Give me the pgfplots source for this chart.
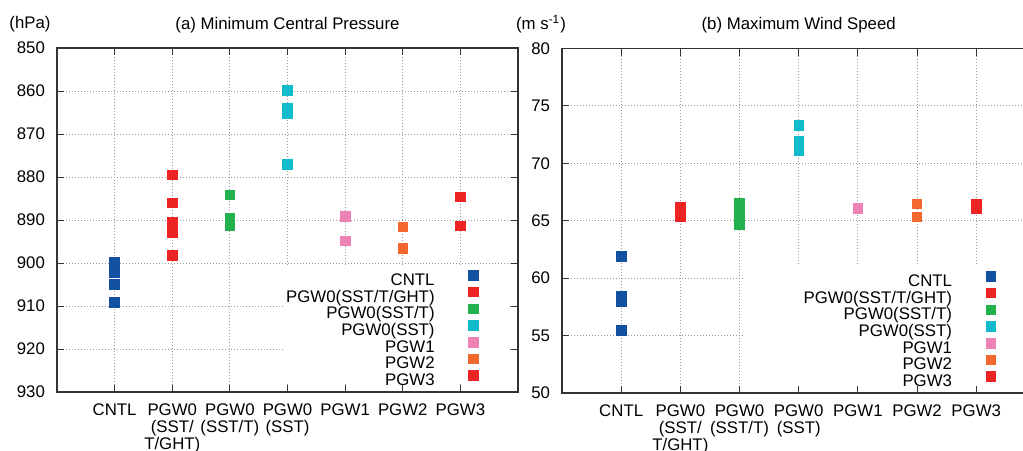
\documentclass[border=0pt]{standalone}
\usepackage{fontspec}
\setmainfont{Liberation Sans}
\usepackage{pgfplots}
\pgfplotsset{compat=1.18}

\definecolor{cntl}{RGB}{18,80,162}
\definecolor{pgwa}{RGB}{237,36,36}
\definecolor{pgwb}{RGB}{34,177,76}
\definecolor{pgwc}{RGB}{16,188,204}
\definecolor{pgwd}{RGB}{238,130,180}
\definecolor{pgwe}{RGB}{242,104,46}
\definecolor{pgwf}{RGB}{237,36,36}

\newcommand{\lbl}{\fontsize{8.4}{8.5}\selectfont}

\pgfplotsset{
  sq/.style={only marks, mark=square*, mark size=2.4pt, color=#1, mark options={fill=#1, draw=#1, solid}},
  panel/.style={
    scale only axis,
    clip=false,
    anchor=south west,
    xmin=0, xmax=8,
    xtick={1,...,7},
    xticklabels={CNTL,{PGW0\\(SST/\\T/GHT)},{PGW0\\(SST/T)},{PGW0\\(SST)},PGW1,PGW2,PGW3},
    x tick label style={align=center, font=\lbl, yshift=-2.5pt},
    y tick label style={font=\lbl, xshift=-2.5pt},
    /pgf/number format/assume math mode=true,
    tick align=inside, major tick length=3.5pt,
    tick style={line width=0.5pt, black!80},
    grid=major,
    grid style={dash pattern=on 0.5pt off 1pt, gray!80, line width=0.45pt},
    axis line style={line width=0.9pt, black!80},
    title style={font=\lbl, yshift=-2pt},
    legend image code/.code={\path[draw=none] (0pt,0pt) -- (39.5pt,0pt); \draw[##1] plot coordinates {(17.5pt,3pt)};},
    legend cell align=right, legend plot pos=right,
    legend style={draw=none, fill=none, font=\lbl, inner sep=0pt, row sep=-1.3pt,
      nodes={inner ysep=0pt, inner xsep=2pt, text height=6.3pt, text depth=2.2pt},
      at={(rel axis cs:1,0)}, anchor=south east, yshift=0.8pt},
  }
}

\begin{document}
\begin{tikzpicture}
% (a) minimum central pressure
\begin{axis}[panel, at={(28.5pt,29pt)}, width=230.5pt, height=172pt,
  ymin=850, ymax=930, y dir=reverse, ytick={850,860,...,930},
  title={(a) Minimum Central Pressure}]
\fill[white] (axis cs:3.96,900.45) rectangle ([xshift=-3.8pt,yshift=3.8pt]axis cs:8,930);
\addplot[sq=cntl] coordinates {(1,899.8) (1,901.0) (1,902.2) (1,905.0) (1,909.1)};
\addlegendentry{CNTL}
\addplot[sq=pgwa] coordinates {(2,879.5) (2,886.0) (2,890.5) (2,893.0) (2,898.3)};
\addlegendentry{PGW0(SST/T/GHT)}
\addplot[sq=pgwb] coordinates {(3,884.2) (3,889.6) (3,890.5) (3,891.4)};
\addlegendentry{PGW0(SST/T)}
\addplot[sq=pgwc] coordinates {(4,859.9) (4,864.1) (4,865.2) (4,877.0)};
\addlegendentry{PGW0(SST)}
\addplot[sq=pgwd] coordinates {(5,889.1) (5,894.9)};
\addlegendentry{PGW1}
\addplot[sq=pgwe] coordinates {(6,891.6) (6,896.6)};
\addlegendentry{PGW2}
\addplot[sq=pgwf] coordinates {(7,884.6) (7,891.4)};
\addlegendentry{PGW3}
\node[font=\lbl, text=black] at ([xshift=-13.5pt, yshift=12pt]axis cs:0,850) {(hPa)};
\end{axis}
% (b) maximum wind speed
\begin{axis}[panel, at={(281pt,28.5pt)}, width=236.7pt, height=172.25pt,
  ymin=50, ymax=80, ytick={50,55,...,80},
  title={(b) Maximum Wind Speed}]
\fill[white] (axis cs:3.1,61.15) rectangle ([xshift=-3.8pt,yshift=3.8pt]axis cs:8,50);
\addplot[sq=cntl] coordinates {(1,61.87) (1,58.4) (1,57.95) (1,55.46)};
\addlegendentry{CNTL}
\addplot[sq=pgwa] coordinates {(2,66.2) (2,65.8) (2,65.35)};
\addlegendentry{PGW0(SST/T/GHT)}
\addplot[sq=pgwb] coordinates {(3,66.5) (3,65.9) (3,65.3) (3,64.7)};
\addlegendentry{PGW0(SST/T)}
\addplot[sq=pgwc] coordinates {(4,73.3) (4,71.9) (4,71.1)};
\addlegendentry{PGW0(SST)}
\addplot[sq=pgwd] coordinates {(5,66.1)};
\addlegendentry{PGW1}
\addplot[sq=pgwe] coordinates {(6,66.48) (6,65.32)};
\addlegendentry{PGW2}
\addplot[sq=pgwf] coordinates {(7,66.48) (7,66.1)};
\addlegendentry{PGW3}
\node[font=\lbl, text=black] at ([xshift=-10.5pt, yshift=12pt]axis cs:0,80) {(m s\textsuperscript{-1})};
\end{axis}
\pgfresetboundingbox
\useasboundingbox (0pt,0pt) rectangle (511.5pt,225pt);
\end{tikzpicture}
\end{document}
